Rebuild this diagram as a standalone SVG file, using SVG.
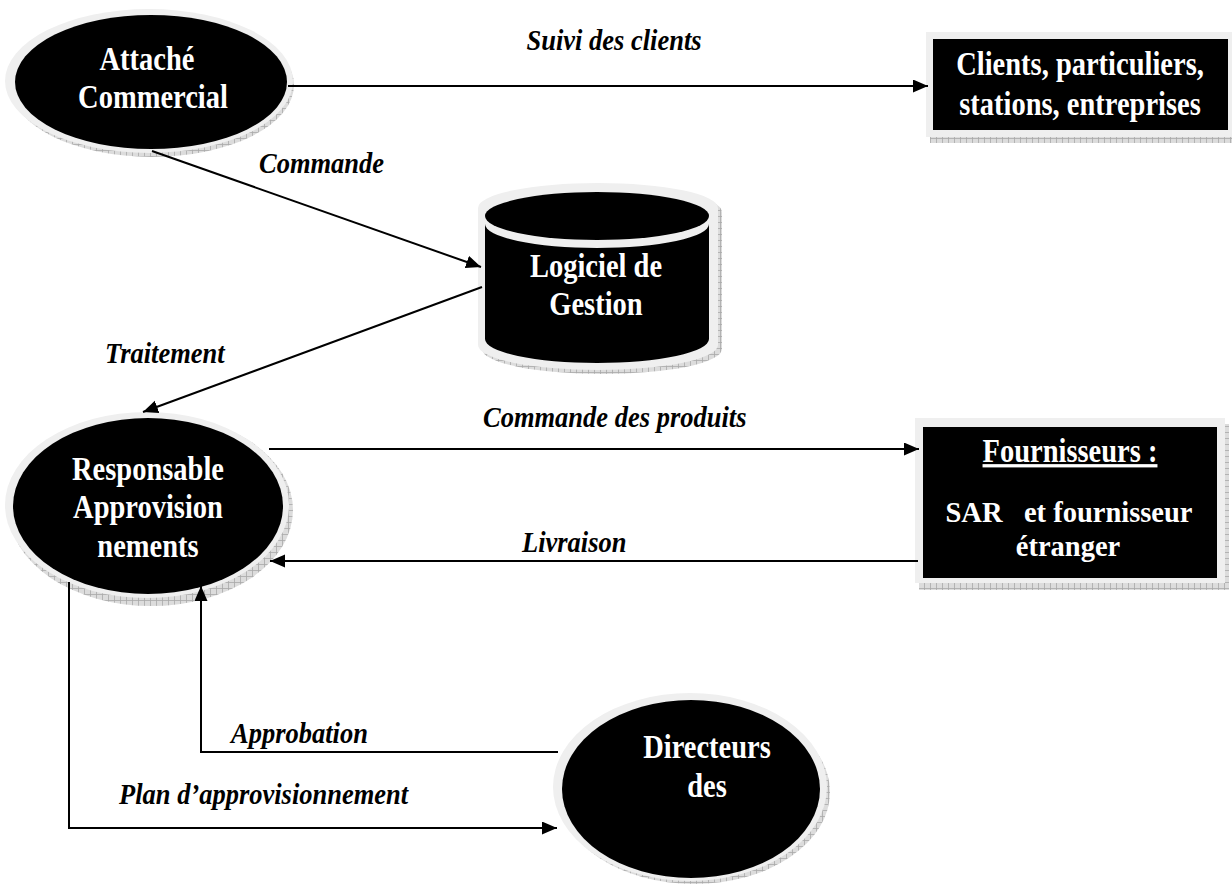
<svg xmlns="http://www.w3.org/2000/svg" width="1232" height="884" viewBox="0 0 1232 884">
<defs>
<pattern id="hatch" patternUnits="userSpaceOnUse" width="6" height="6">
<rect width="6" height="6" fill="#dcdcdc"/>
<path d="M0,0.5H6M0.5,0V6" stroke="#a8a8a8" stroke-width="0.8"/>
</pattern>
<marker id="arr" markerUnits="userSpaceOnUse" markerWidth="16" markerHeight="14" refX="15" refY="6.5" orient="auto">
<path d="M0,0 L15,6.5 L0,13 Z" fill="#000"/>
</marker>
</defs>
<style>
.halo{fill:#efefef}
.shadow{fill:url(#hatch)}
.core{fill:#000}
.nt{font-family:"Liberation Serif","Times New Roman",serif;font-weight:bold;font-size:28.5px;fill:#fff;text-anchor:middle;white-space:pre}
.lb{font-family:"Liberation Serif","Times New Roman",serif;font-weight:bold;font-style:italic;font-size:26.5px;fill:#000}
.cn{fill:none;stroke:#000;stroke-width:2}
</style>
<rect width="1232" height="884" fill="#fff"/>

<g id="attache">
<ellipse class="shadow" cx="152" cy="85" rx="142" ry="72"/>
<ellipse class="halo" cx="149" cy="81" rx="144" ry="72"/>
<ellipse class="core" cx="151" cy="82" rx="136" ry="67"/>
<text class="nt" transform="translate(147,70) scale(1,1.15)">Attaché</text>
<text class="nt" transform="translate(153,108) scale(1,1.15)">Commercial</text>
</g>

<g id="clients">
<rect class="shadow" x="930" y="37" width="306" height="106"/>
<rect class="halo" x="926" y="32" width="306" height="105"/>
<rect class="core" x="933" y="39" width="295" height="91"/>
<text class="nt" transform="translate(1080,75) scale(1,1.15)">Clients, particuliers,</text>
<text class="nt" transform="translate(1080,115) scale(1,1.15)">stations, entreprises</text>
</g>

<g id="logiciel">
<path class="shadow" d="M482,212 A120,25 0 0 1 722,212 L722,349 A120,25 0 0 1 482,349 Z"/>
<path class="halo" d="M478,208 A120,25 0 0 1 718,208 L718,345 A120,25 0 0 1 478,345 Z"/>
<path class="core" d="M485,224 A112,24 0 0 0 709,224 L709,339 A112,24 0 0 1 485,339 Z"/>
<ellipse class="core" cx="597" cy="216" rx="112" ry="24"/>
<text class="nt" transform="translate(596,277) scale(1,1.15)">Logiciel de</text>
<text class="nt" transform="translate(596,315) scale(1,1.15)">Gestion</text>
</g>

<g id="responsable">
<ellipse class="shadow" cx="151" cy="510" rx="142" ry="96"/>
<ellipse class="halo" cx="147" cy="505" rx="142" ry="93"/>
<ellipse class="core" cx="148" cy="506" rx="135" ry="88"/>
<text class="nt" transform="translate(148,480) scale(1,1.15)">Responsable</text>
<text class="nt" transform="translate(148,518) scale(1,1.15)">Approvision</text>
<text class="nt" transform="translate(148,557) scale(1,1.15)">nements</text>
</g>

<g id="fournisseurs">
<rect class="shadow" x="919" y="424" width="310" height="166"/>
<rect class="halo" x="915" y="418" width="310" height="165"/>
<rect class="core" x="923" y="427" width="294" height="151"/>
<text class="nt" transform="translate(1070,462) scale(1,1.15)" text-decoration="underline">Fournisseurs :</text>
<text class="nt" x="1069" y="522">SAR   et fournisseur</text>
<text class="nt" x="1068" y="556">étranger</text>
</g>

<g id="directeurs">
<ellipse class="shadow" cx="694" cy="792" rx="136" ry="92"/>
<ellipse class="halo" cx="690" cy="787" rx="137" ry="94"/>
<ellipse class="core" cx="691" cy="789" rx="129" ry="89"/>
<text class="nt" transform="translate(707,758) scale(1,1.15)">Directeurs</text>
<text class="nt" transform="translate(707,797) scale(1,1.15)">des</text>
</g>

<g id="connectors">
<path class="cn" d="M288,86 L928,86" marker-end="url(#arr)"/>
<path class="cn" d="M152,151 L481,267" marker-end="url(#arr)"/>
<path class="cn" d="M482,287 L143,412" marker-end="url(#arr)"/>
<path class="cn" d="M269,449 L919,449" marker-end="url(#arr)"/>
<path class="cn" d="M918,561 L270,561" marker-end="url(#arr)"/>
<path class="cn" d="M558,752 L201,752 L201,586" marker-end="url(#arr)"/>
<path class="cn" d="M69,582 L69,828 L557,828" marker-end="url(#arr)"/>
</g>

<g id="labels">
<text class="lb" transform="translate(614,50) scale(1,1.1)" text-anchor="middle">Suivi des clients</text>
<text class="lb" transform="translate(259,173) scale(1,1.1)">Commande</text>
<text class="lb" transform="translate(105,363) scale(1,1.1)">Traitement</text>
<text class="lb" transform="translate(483,427) scale(1,1.1)">Commande des produits</text>
<text class="lb" transform="translate(522,552) scale(1,1.1)">Livraison</text>
<text class="lb" transform="translate(231,743) scale(1,1.1)">Approbation</text>
<text class="lb" transform="translate(119,804) scale(1,1.1)">Plan d’approvisionnement</text>
</g>
</svg>
